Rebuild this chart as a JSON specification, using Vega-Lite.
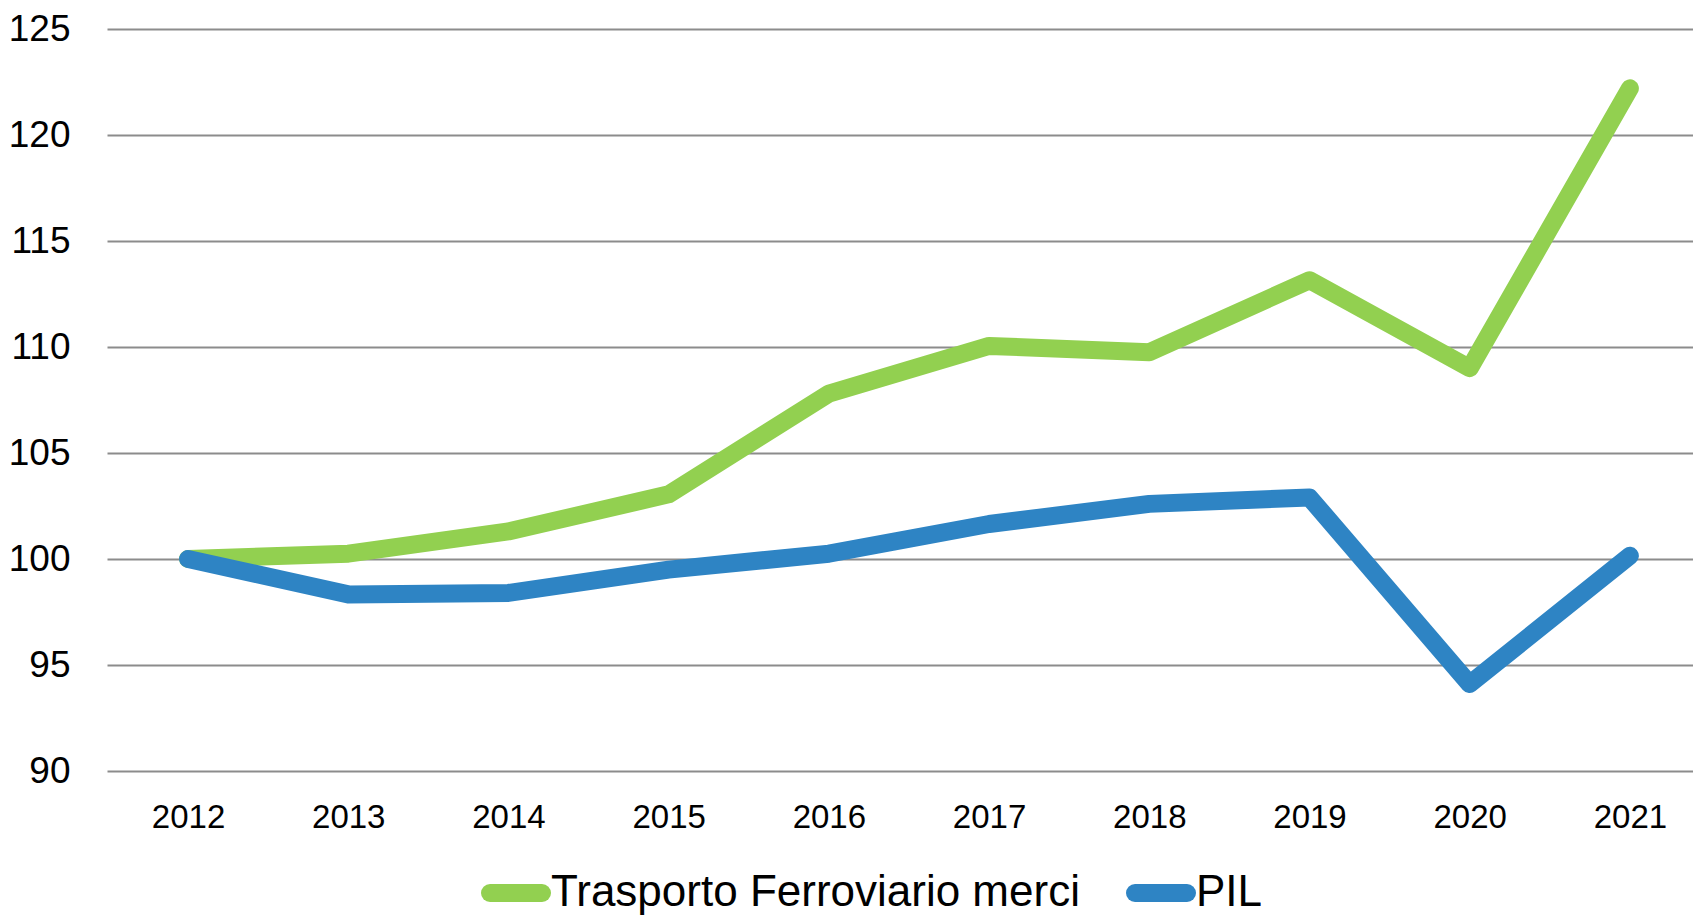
{
  "$schema": "https://vega.github.io/schema/vega-lite/v6.json",
  "width": 1586,
  "height": 742,
  "autosize": {"type": "none"},
  "padding": {"left": 107, "top": 29, "right": 0, "bottom": 145},
  "background": "white",
  "config": {"view": {"stroke": null}, "font": "Liberation Sans, Arial, sans-serif"},
  "data": {"values": [
    {"anno": 2012, "serie": "Trasporto Ferroviario merci", "indice": 100.0},
    {"anno": 2013, "serie": "Trasporto Ferroviario merci", "indice": 100.25},
    {"anno": 2014, "serie": "Trasporto Ferroviario merci", "indice": 101.3},
    {"anno": 2015, "serie": "Trasporto Ferroviario merci", "indice": 103.05},
    {"anno": 2016, "serie": "Trasporto Ferroviario merci", "indice": 107.8},
    {"anno": 2017, "serie": "Trasporto Ferroviario merci", "indice": 110.05},
    {"anno": 2018, "serie": "Trasporto Ferroviario merci", "indice": 109.75},
    {"anno": 2019, "serie": "Trasporto Ferroviario merci", "indice": 113.15},
    {"anno": 2020, "serie": "Trasporto Ferroviario merci", "indice": 109.0},
    {"anno": 2021, "serie": "Trasporto Ferroviario merci", "indice": 122.2},
    {"anno": 2012, "serie": "PIL", "indice": 100.0},
    {"anno": 2013, "serie": "PIL", "indice": 98.33},
    {"anno": 2014, "serie": "PIL", "indice": 98.4},
    {"anno": 2015, "serie": "PIL", "indice": 99.5},
    {"anno": 2016, "serie": "PIL", "indice": 100.25},
    {"anno": 2017, "serie": "PIL", "indice": 101.65},
    {"anno": 2018, "serie": "PIL", "indice": 102.6},
    {"anno": 2019, "serie": "PIL", "indice": 102.9},
    {"anno": 2020, "serie": "PIL", "indice": 94.1},
    {"anno": 2021, "serie": "PIL", "indice": 100.15}
  ]},
  "mark": {"type": "line", "strokeWidth": 18, "strokeCap": "round", "strokeJoin": "round", "clip": false},
  "encoding": {
    "x": {
      "field": "anno", "type": "quantitative",
      "scale": {"domain": [2011.494, 2021.394], "nice": false, "zero": false},
      "axis": {"values": [2012, 2013, 2014, 2015, 2016, 2017, 2018, 2019, 2020, 2021], "format": "d", "grid": false, "domain": false, "ticks": false, "labelFontSize": 33, "labelColor": "#000000", "labelPadding": 30, "labelOverlap": false, "labelFlush": false, "title": null}
    },
    "y": {
      "field": "indice", "type": "quantitative",
      "scale": {"domain": [90, 125], "nice": false, "zero": false},
      "axis": {"values": [90, 95, 100, 105, 110, 115, 120, 125], "grid": true, "gridColor": "#8c8c8c", "gridWidth": 2, "domain": false, "ticks": false, "labelFontSize": 37, "labelColor": "#000000", "labelPadding": 37, "title": null}
    },
    "color": {
      "field": "serie", "type": "nominal",
      "scale": {"domain": ["Trasporto Ferroviario merci", "PIL"], "range": ["#92D050", "#2E84C4"]},
      "legend": {"orient": "none", "legendX": 374, "legendY": 829, "direction": "horizontal", "title": null, "symbolType": "stroke", "symbolSize": 2704, "symbolStrokeWidth": 18, "labelFontSize": 44, "labelColor": "#000000", "labelOffset": 0, "columnPadding": 19, "padding": 0, "labelLimit": 1000, "encode": {"symbols": {"update": {"strokeCap": {"value": "round"}}}}}
    }
  }
}
